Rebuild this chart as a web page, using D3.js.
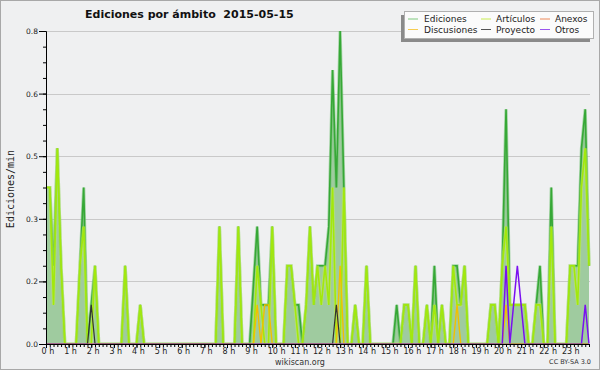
<!DOCTYPE html>
<html><head><meta charset="utf-8">
<script src="https://cdn.jsdelivr.net/npm/d3@7/dist/d3.min.js"></script>
<style>
html,body{margin:0;padding:0;background:#eff0f1;}
svg{display:block;font-family:"DejaVu Sans",sans-serif;}
</style></head><body>
<svg id="c" width="600" height="370"></svg>
<script>
// 10-minute samples (edits/min), one row per hour, final value = 24:00
const ediciones = [
 0.4,0.4,0.2,0.5,0.2,0,
 0,0,0,0.2,0.4,0,
 0.1,0.2,0,0,0,0,
 0,0,0,0.2,0,0,
 0,0.1,0,0,0,0,
 0,0,0,0,0,0,
 0,0,0,0,0,0,
 0,0,0,0,0.3,0,
 0,0,0,0.3,0,0,
 0,0.15,0.3,0.1,0.1,0.1,
 0.3,0,0,0,0.2,0.2,
 0.1,0.1,0,0.1,0.3,0.1,
 0.2,0.2,0.2,0.3,0.7,0.4,
 0.8,0.4,0,0,0.1,0,
 0,0.2,0,0,0,0,
 0,0,0,0.1,0,0.1,
 0.1,0,0.2,0,0,0.1,
 0,0.2,0,0.1,0,0,
 0.2,0.2,0.1,0.2,0,0,
 0,0,0,0,0.1,0.1,
 0,0.2,0.6,0.1,0.1,0.1,
 0.1,0.1,0,0,0.1,0.2,
 0,0,0.4,0,0,0,
 0,0.2,0.2,0.2,0.5,0.6,
 0.2];
const articulos = [
 0.4,0.4,0.1,0.5,0.2,0,
 0,0,0,0.2,0.3,0,
 0,0.2,0,0,0,0,
 0,0,0,0.2,0,0,
 0,0.1,0,0,0,0,
 0,0,0,0,0,0,
 0,0,0,0,0,0,
 0,0,0,0,0.3,0,
 0,0,0,0.3,0,0,
 0,0,0.2,0.1,0,0,
 0.3,0,0,0,0.2,0.2,
 0.1,0,0,0.1,0.3,0.1,
 0.2,0.1,0.2,0.1,0.4,0,
 0,0.4,0,0,0.1,0,
 0,0.2,0,0,0,0,
 0,0,0,0,0,0.1,
 0.1,0,0.2,0,0,0.1,
 0,0.1,0,0.1,0,0,
 0.2,0.1,0.1,0.2,0,0,
 0,0,0,0,0.1,0.1,
 0,0.2,0.3,0.1,0.1,0.1,
 0.1,0.1,0,0,0.1,0.1,
 0,0,0.3,0,0,0,
 0,0.2,0.2,0.1,0.4,0.5,
 0.2];
// sparse series: [sample index, value]; all other samples are 0
const anexosPts = [];
const discusionesPts = [[56,0.1],[58,0.1],[59,0.1],[78,0.2],[109,0.1],[122,0.1]];
const proyectoPts = [[12,0.1],[77,0.1]];
const otrosPts = [[122,0.2],[124,0.1],[125,0.2],[126,0.1],[143,0.1]];
const yMajorTicks = [0,0.16,0.32,0.48,0.64,0.8];
const hourLabels = d3.range(24).map(h => h + " h");
const legendItems = [
 {name:"Ediciones", col:0,row:0, color:"#7fc97f"},
 {name:"Artículos", col:1,row:0, color:"#c8ec50"},
 {name:"Anexos", col:2,row:0, color:"#ee8a5a"},
 {name:"Discusiones", col:0,row:1, color:"#f6cc50"},
 {name:"Proyecto", col:1,row:1, color:"#555555"},
 {name:"Otros", col:2,row:1, color:"#9a55ee"}
];

const N = ediciones.length;
function expand(pts){ const a = new Array(N).fill(0); pts.forEach(([i,v])=>a[i]=v); return a; }
const anexos = expand(anexosPts), discusiones = expand(discusionesPts),
      proyecto = expand(proyectoPts), otros = expand(otrosPts);

const svg = d3.select("#c");
const L=46, R=589, T=31, B=344;
const x = d3.scaleLinear().domain([0,144]).range([L,R]);
const y = d3.scaleLinear().domain([0,0.8]).range([B,T]);

svg.append("rect").attr("x",0.5).attr("y",0.5).attr("width",599).attr("height",369)
  .attr("fill","#eff0f1").attr("stroke","#a8a8a8");
svg.append("defs").append("clipPath").attr("id","plotclip")
  .append("rect").attr("x",L).attr("y",0).attr("width",R-L+2).attr("height",B-0.6);

// grid
svg.append("g").selectAll("line").data(yMajorTicks.slice(1)).join("line")
  .attr("x1",L).attr("x2",590).attr("y1",d=>Math.round(y(d))+0.5).attr("y2",d=>Math.round(y(d))+0.5)
  .attr("stroke","#c9c9c9").attr("stroke-width",1);

const plot = svg.append("g").attr("clip-path","url(#plotclip)");
// area
plot.append("path").datum(ediciones)
  .attr("d", d3.area().x((d,i)=>x(i)).y0(y(0)).y1(d=>y(d)))
  .attr("fill","#9fcb9f");

const line = d3.line().x((d,i)=>x(i)).y(d=>y(d));
const series = [
 {data:ediciones, color:"#36a836", w:1.6, halo:"#6cc06c"},
 {data:articulos, color:"#a2e80c", w:1.6, halo:"#c4ee60"},
 {data:anexos, color:"#ee7733", w:1.4},
 {data:discusiones, color:"#f2c000", w:1.4},
 {data:proyecto, color:"#333333", w:1.2},
 {data:otros, color:"#7a10f0", w:1.5}
];
series.forEach(s=>{
  if (s.halo) plot.append("path").datum(s.data).attr("d",line).attr("fill","none")
    .attr("stroke",s.halo).attr("stroke-width",s.w+1.6).attr("stroke-opacity",0.55);
  plot.append("path").datum(s.data).attr("d",line).attr("fill","none")
    .attr("stroke",s.color).attr("stroke-width",s.w).attr("stroke-linejoin","miter");
});

// y axis
const yAxis = svg.append("g").attr("transform",`translate(${L},0)`)
  .call(d3.axisLeft(y).tickValues(yMajorTicks).tickSize(7).tickSizeOuter(0).tickFormat(d3.format(".1f")));
yAxis.selectAll("text").attr("font-size",7.5).attr("font-family","DejaVu Sans").attr("fill","#222").attr("x",-8);
svg.append("g").attr("transform",`translate(${L},0)`)
  .call(d3.axisLeft(y).tickValues(d3.range(0,0.801,0.04)).tickSize(3).tickSizeOuter(0).tickFormat(""));

// x axis
svg.append("g").attr("transform",`translate(0,${B})`)
  .call(d3.axisBottom(x).tickValues(d3.range(0,145)).tickSize(3).tickSizeOuter(0).tickFormat(""))
  .select(".domain").attr("d",`M${L},0.5H590`);
const xAxis = svg.append("g").attr("transform",`translate(0,${B})`)
  .call(d3.axisBottom(x).tickValues(d3.range(0,144,6)).tickSize(4).tickSizeOuter(0)
    .tickFormat((d,i)=>hourLabels[i]));
xAxis.select(".domain").remove();
xAxis.selectAll("text").attr("font-size",8).attr("font-family","DejaVu Sans").attr("fill","#222")
  .attr("text-anchor","start").attr("x",-5).attr("y",10).attr("dy",null);
svg.selectAll(".domain, .tick line").attr("stroke","#000");

// titles
svg.append("text").attr("x",85).attr("y",18).attr("font-weight","bold").attr("font-size",11)
  .attr("fill","#111").style("white-space","pre").text("Ediciones por ámbito  2015-05-15");
svg.append("text").attr("transform","translate(14,189) rotate(-90)").attr("text-anchor","middle")
  .attr("font-family","DejaVu Sans Mono").attr("font-size",10).attr("fill","#222").text("Ediciones/min");
svg.append("text").attr("x",300).attr("y",364.5).attr("text-anchor","middle").attr("font-size",8)
  .attr("fill","#333").text("wikiscan.org");
svg.append("text").attr("x",591).attr("y",364).attr("text-anchor","end").attr("font-size",6.5)
  .attr("fill","#333").text("CC BY-SA 3.0");

// legend
const lg = svg.append("g");
lg.append("rect").attr("x",401).attr("y",15).attr("width",189).attr("height",27).attr("fill","#8a8a8a");
lg.append("rect").attr("x",404.5).attr("y",11.5).attr("width",189).attr("height",27)
  .attr("fill","#fbfbfb").attr("stroke","#b0b0b0");
const colX = [408,481,540], colT = [424,496,555], rowY=[19,29.5];
legendItems.forEach(it=>{
  lg.append("line").attr("x1",colX[it.col]).attr("x2",colX[it.col]+10)
    .attr("y1",rowY[it.row]).attr("y2",rowY[it.row]).attr("stroke",it.color).attr("stroke-width",1);
  lg.append("text").attr("x",colT[it.col]).attr("y",rowY[it.row]+3.3).attr("font-size",9)
    .attr("fill","#222").text(it.name);
});
</script></body></html>
